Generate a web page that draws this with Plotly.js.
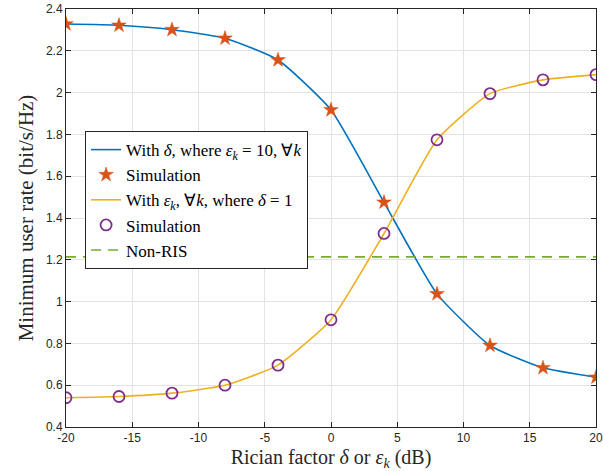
<!DOCTYPE html>
<html>
<head>
<meta charset="utf-8">
<script src="https://cdn.plot.ly/plotly-3.0.1.min.js"></script>
<style>html,body{margin:0;padding:0;background:#fff;}#chart{width:603px;height:471px;}</style>
</head>
<body>
<div id="chart"></div>
<script>
const xValues = [-20, -16, -12, -8, -4, 0, 4, 8, 12, 16, 20];
const rateDelta = [2.328, 2.322, 2.301, 2.260, 2.156, 1.917, 1.475, 1.037, 0.790, 0.683, 0.638];
const simDelta = [2.328, 2.322, 2.301, 2.260, 2.156, 1.917, 1.475, 1.037, 0.790, 0.683, 0.638];
const rateEps = [0.540, 0.546, 0.562, 0.600, 0.696, 0.913, 1.326, 1.774, 1.995, 2.061, 2.086];
const simEps = [0.540, 0.546, 0.562, 0.600, 0.696, 0.913, 1.326, 1.774, 1.995, 2.061, 2.086];
const nonRIS = [1.214, 1.214, 1.214, 1.214, 1.214, 1.214, 1.214, 1.214, 1.214, 1.214, 1.214];
const xTicks = [-20, -15, -10, -5, 0, 5, 10, 15, 20];
const yTicks = [0.4, 0.6, 0.8, 1, 1.2, 1.4, 1.6, 1.8, 2, 2.2, 2.4];
const yTickText = ['0.4', '0.6', '0.8', '1', '1.2', '1.4', '1.6', '1.8', '2', '2.2', '2.4'];
const names = [
  'With <i>δ</i>, where <i>ε<sub>k</sub></i> = 10, ∀<i>k</i>',
  'Simulation',
  'With <i>ε<sub>k</sub></i>, ∀<i>k</i>, where <i>δ</i> = 1',
  'Simulation',
  'Non-RIS'
];

const serif = 'Liberation Serif, Times New Roman, serif';
const sans = 'Liberation Sans, Arial, sans-serif';

const traces = [
  {x: xValues, y: rateDelta, mode: 'lines', name: names[0], line: {color: '#0072BD', width: 1.6, shape: 'spline', smoothing: 0.5}},
  {x: xValues, y: simDelta, mode: 'markers', name: names[1], marker: {symbol: 'star', size: 11, color: '#D95319', line: {color: '#D95319', width: 0.5}}},
  {x: xValues, y: rateEps, mode: 'lines', name: names[2], line: {color: '#EDB120', width: 1.6, shape: 'spline', smoothing: 0.5}},
  {x: xValues, y: simEps, mode: 'markers', name: names[3], marker: {symbol: 'circle-open', size: 11, color: '#7E2F8E', line: {color: '#7E2F8E', width: 1.8}}},
  {x: xValues, y: nonRIS, mode: 'lines', name: names[4], line: {color: '#77AC30', width: 1.6, dash: '10px,7px'}}
];

const axisCommon = {
  showline: true, linecolor: '#262626', linewidth: 1, mirror: 'ticks',
  ticks: 'inside', ticklen: 5, tickcolor: '#262626',
  showgrid: true, gridcolor: '#e3e3e3', gridwidth: 1, zeroline: false,
  tickfont: {family: sans, size: 12, color: '#262626'}
};

const layout = {
  width: 603, height: 471,
  margin: {l: 66, r: 7, t: 9, b: 44},
  paper_bgcolor: '#fff', plot_bgcolor: '#fff',
  showlegend: true,
  xaxis: Object.assign({}, axisCommon, {
    range: [-20, 20], tickvals: xTicks, ticktext: xTicks.map(String),
    title: {text: 'Rician factor <i>δ</i> or <i>ε<sub>k</sub></i> (dB)', font: {family: serif, size: 20, color: '#262626'}, standoff: 5}
  }),
  yaxis: Object.assign({}, axisCommon, {
    range: [0.4, 2.4], tickvals: yTicks, ticktext: yTickText,
    title: {text: 'Minimum user rate (bit/s/Hz)', font: {family: serif, size: 21, color: '#262626'}, standoff: 6}
  }),
  legend: {
    x: 0.036, y: 0.708, xanchor: 'left', yanchor: 'top',
    bgcolor: '#fff', bordercolor: '#262626', borderwidth: 1,
    font: {family: serif, size: 17, color: '#000'},
    tracegroupgap: 0, itemwidth: 30
  }
};

Plotly.newPlot('chart', traces, layout, {displayModeBar: false, staticPlot: true});
</script>
</body>
</html>
